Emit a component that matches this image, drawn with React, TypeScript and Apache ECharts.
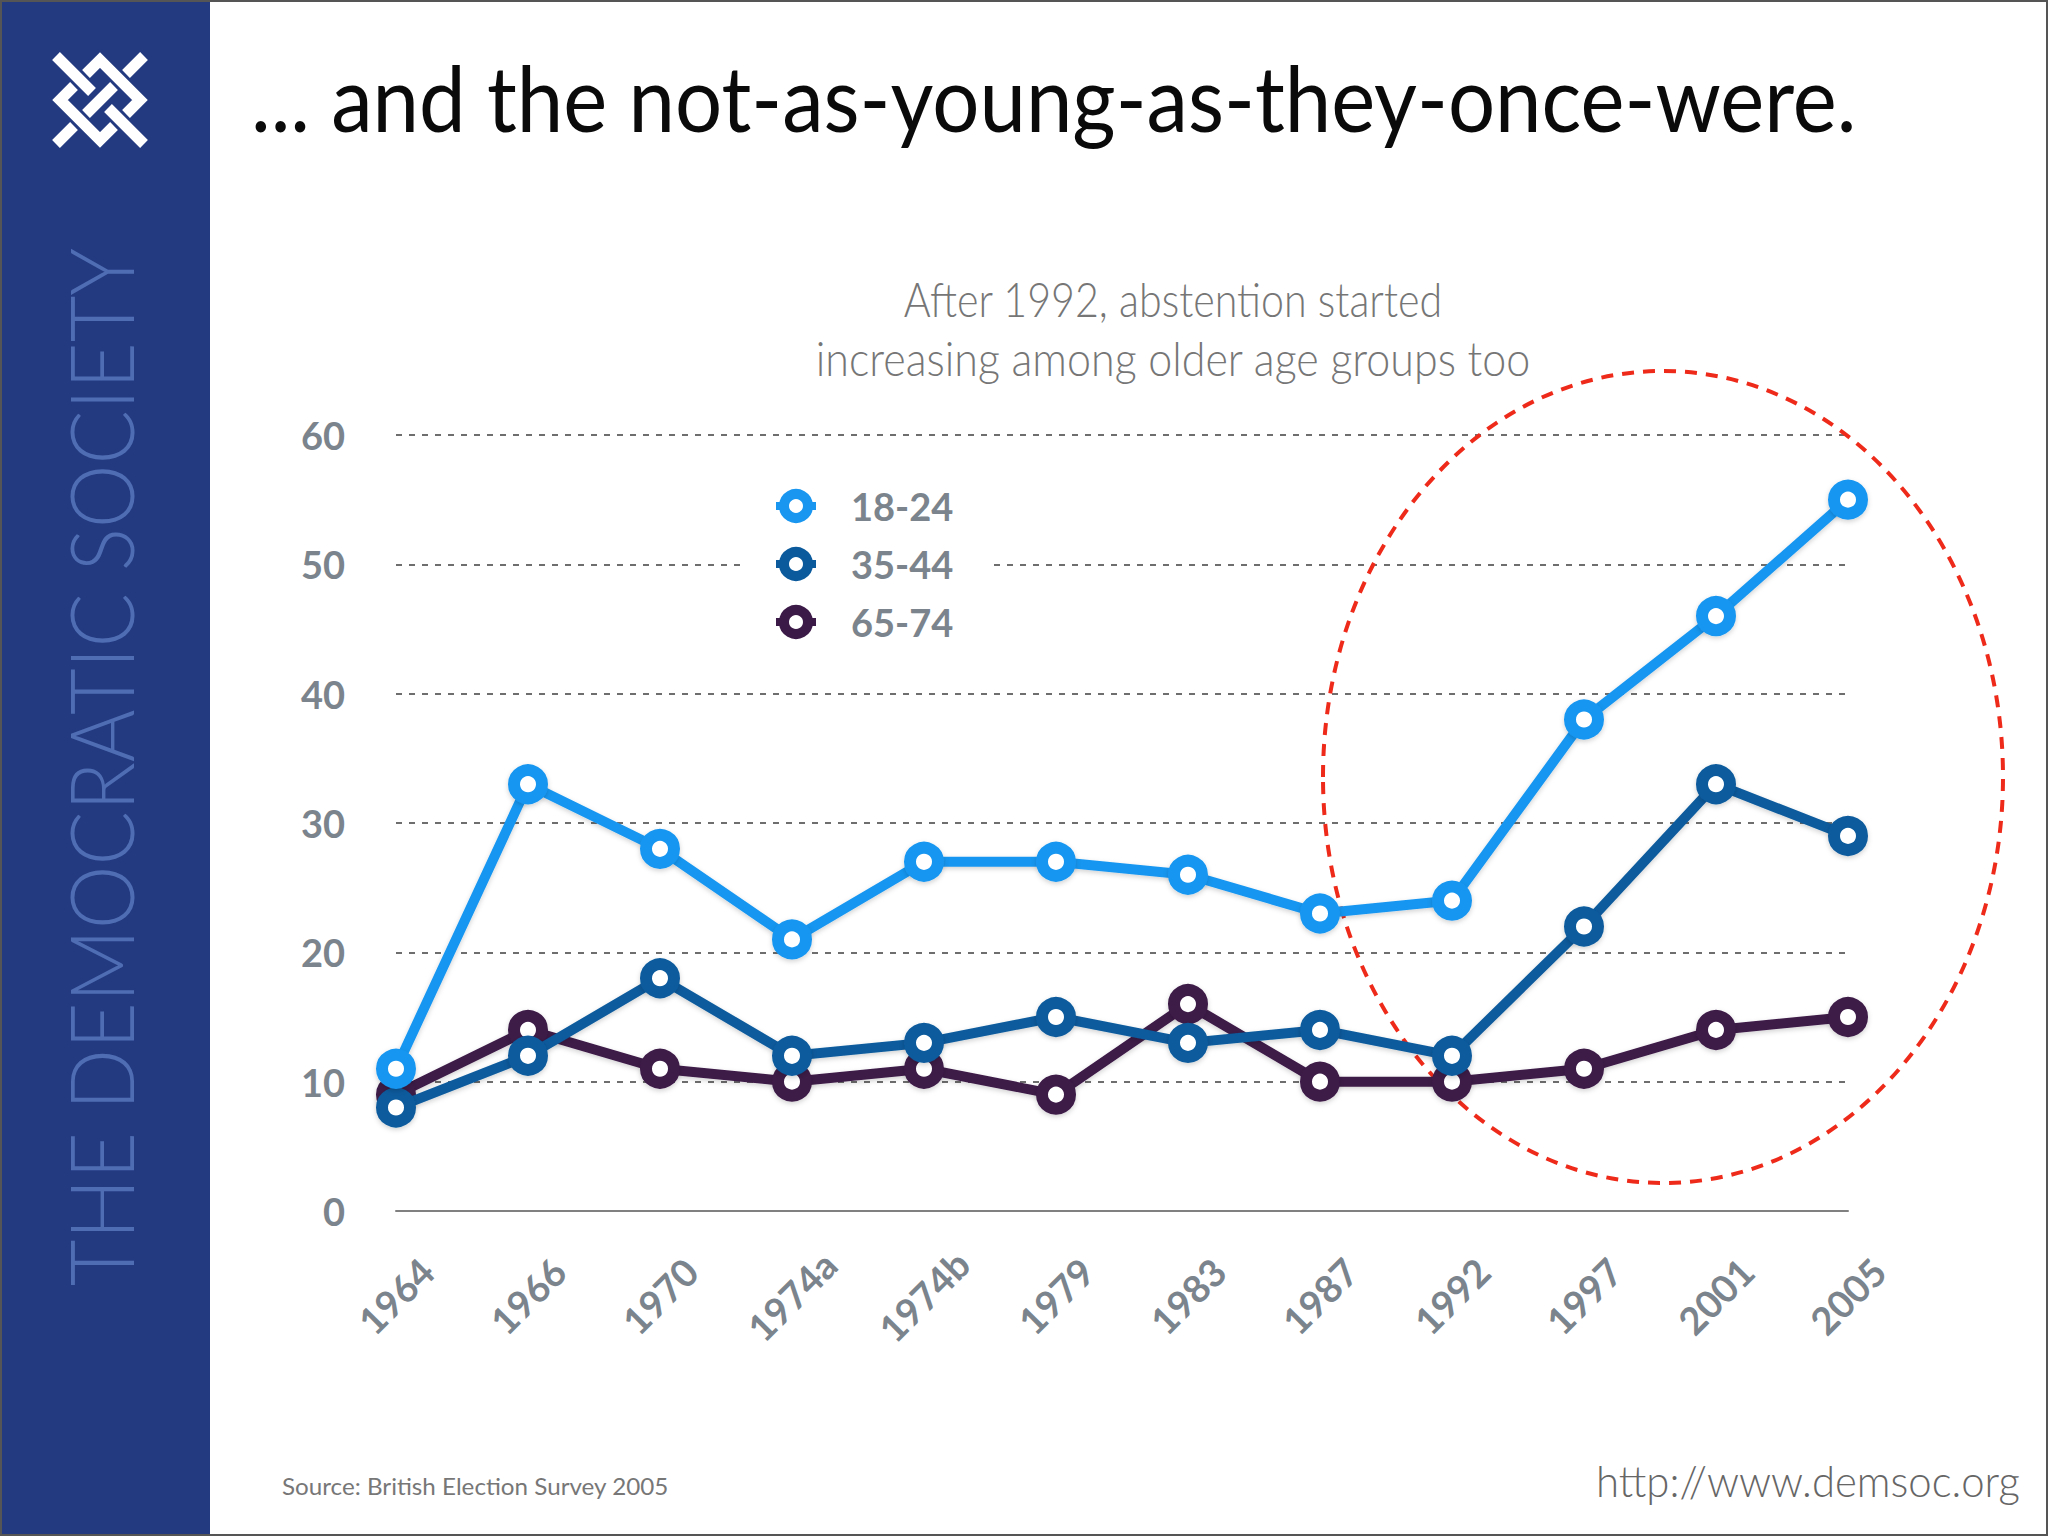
import React, { useEffect, useRef } from "react";
import * as echarts from "echarts";

const categories = ["1964", "1966", "1970", "1974a", "1974b", "1979", "1983", "1987", "1992", "1997", "2001", "2005"];
const seriesNames = ["18-24", "35-44", "65-74"];
const age1824 = [11, 33, 28, 21, 27, 27, 26, 23, 24, 38, 46, 55];
const age3544 = [8, 12, 18, 12, 13, 15, 13, 14, 12, 22, 33, 29];
const age6574 = [9, 14, 11, 10, 11, 9, 16, 10, 10, 11, 14, 15];
const yMin = 0;
const yMax = 60;
const yInterval = 10;

const titleText = "... and the not-as-young-as-they-once-were.";
const subtitleLines = ["After 1992, abstention started", "increasing among older age groups too"];
const sideText = "THE DEMOCRATIC SOCIETY";
const sourceText = "Source: British Election Survey 2005";
const urlText = "http://www.demsoc.org";

const COLORS = ["#1996f0", "#0a5a9c", "#3c1a47"];
const GREY = "#7b848c";

function measure(text: string, font: string): number {
  const c = document.createElement("canvas").getContext("2d");
  if (!c) return text.length * 20;
  c.font = font;
  return c.measureText(text).width;
}

export default function App() {
  const ref = useRef<HTMLDivElement>(null);
  useEffect(() => {
    if (!ref.current) return;
    const chart = echarts.init(ref.current, null, { renderer: "svg" });

    const titleFont = "400 92px Lato";
    const sTitle = 1606 / measure(titleText, titleFont);
    const subFont = "300 48px Lato";
    const sSub0 = 539 / measure(subtitleLines[0], subFont);
    const sSub1 = 716 / measure(subtitleLines[1], subFont);
    const sideFont = "300 88px Lato";
    const sSide = 1038 / measure(sideText, sideFont);
    const srcFont = "400 24px Lato";
    const sSrc = 387 / measure(sourceText, srcFont);
    const urlFont = "300 44px Lato";
    const sUrl = 424 / measure(urlText, urlFont);

    const W = 11;
    const logoLines = [
      [[56, 56], [92, 92]],
      [[108, 108], [144, 144]],
      [[144, 56], [126, 74]],
      [[114, 86], [86, 114]],
      [[56, 144], [74, 126]],
      [[86, 74], [100, 60], [140, 100], [126, 114]],
      [[74, 86], [60, 100], [100, 140], [114, 126]],
    ];

    const mkText = (text: string, x: number, y: number, font: string, fill: string, sx: number, align: string, rotation = 0) => ({
      type: "text",
      x,
      y,
      scaleX: sx,
      rotation,
      silent: true,
      z: 10,
      style: { text, x: 0, y: 0, font, fill, align, verticalAlign: "middle", textAlign: align, textVerticalAlign: "middle" },
    });

    const graphics: any[] = [
      { type: "rect", shape: { x: 0, y: 0, width: 210, height: 1536 }, style: { fill: "#233a80" }, z: 0, silent: true },
      ...logoLines.map((pts) => ({
        type: "polyline",
        shape: { points: pts },
        style: { stroke: "#ffffff", lineWidth: W, fill: null, lineCap: "butt", lineJoin: "miter" },
        z: 5,
        silent: true,
      })),
      mkText(sideText, 100, 767, sideFont, "#4f6db3", sSide, "center", Math.PI / 2),
      mkText(titleText, 251, 96, titleFont, "#0a0a0a", sTitle, "left"),
      mkText(subtitleLines[0], 1173, 299, subFont, "#767676", sSub0, "center"),
      mkText(subtitleLines[1], 1173, 358, subFont, "#767676", sSub1, "center"),
      mkText(sourceText, 282, 1486, srcFont, "#777777", sSrc, "left"),
      mkText(urlText, 1596, 1480, urlFont, "#666666", sUrl, "left"),
      {
        type: "ellipse",
        shape: { cx: 1663, cy: 777, rx: 340, ry: 406 },
        style: { fill: "transparent", stroke: "#ee2b1b", lineWidth: 4, lineDash: [12, 9] },
        z: 1,
        silent: true,
      },
      { type: "rect", shape: { x: 1, y: 1, width: 2046, height: 1534 }, style: { fill: "transparent", stroke: "#555555", lineWidth: 2 }, z: 20, silent: true },
    ];

    const mkSeries = (name: string, data: number[], color: string, z: number) => ({
      name,
      type: "line",
      data,
      color,
      z,
      symbol: "circle",
      symbolSize: 28,
      lineStyle: { color, width: 10, shadowColor: "rgba(0,0,0,0.18)", shadowBlur: 5, shadowOffsetY: 2 },
      itemStyle: { color: "#ffffff", borderColor: color, borderWidth: 12, shadowColor: "rgba(0,0,0,0.18)", shadowBlur: 5, shadowOffsetY: 2 },
      emphasis: { disabled: true },
    });

    chart.setOption({
      animation: false,
      backgroundColor: "#ffffff",
      grid: { left: 396, right: 200, top: 435, bottom: 325, containLabel: false },
      legend: {
        data: seriesNames,
        orient: "vertical",
        left: 742,
        top: 473,
        itemWidth: 40,
        itemHeight: 30,
        itemGap: 18,
        padding: [13, 40, 13, 30],
        backgroundColor: "#ffffff",
        selectedMode: false,
        textStyle: { fontFamily: "Lato", fontWeight: "bold", fontSize: 38, lineHeight: 40, color: GREY, padding: [0, 0, 0, 30] },
        itemStyle: { borderWidth: 10 },
        lineStyle: { width: 8 },
      },
      xAxis: {
        type: "category",
        data: categories,
        boundaryGap: false,
        axisLine: { lineStyle: { color: "#808080", width: 2 } },
        axisTick: { show: false },
        axisLabel: {
          rotate: 45,
          margin: 85,
          align: "center",
          verticalAlign: "middle",
          color: GREY,
          fontFamily: "Lato",
          fontWeight: "bold",
          fontSize: 38,
        },
        splitLine: { show: false },
      },
      yAxis: {
        type: "value",
        min: yMin,
        max: yMax,
        interval: yInterval,
        axisLine: { show: false },
        axisTick: { show: false },
        axisLabel: { margin: 51, color: GREY, fontFamily: "Lato", fontWeight: "bold", fontSize: 38 },
        splitLine: { lineStyle: { type: [6, 7], color: "#6e6e6e", width: 2 } },
      },
      series: [
        mkSeries(seriesNames[2], age6574, COLORS[2], 2),
        mkSeries(seriesNames[1], age3544, COLORS[1], 3),
        mkSeries(seriesNames[0], age1824, COLORS[0], 4),
      ],
      graphic: graphics,
    });

    return () => chart.dispose();
  }, []);

  return <div ref={ref} style={{ position: "absolute", left: 0, top: 0, width: 2048, height: 1536 }} />;
}
